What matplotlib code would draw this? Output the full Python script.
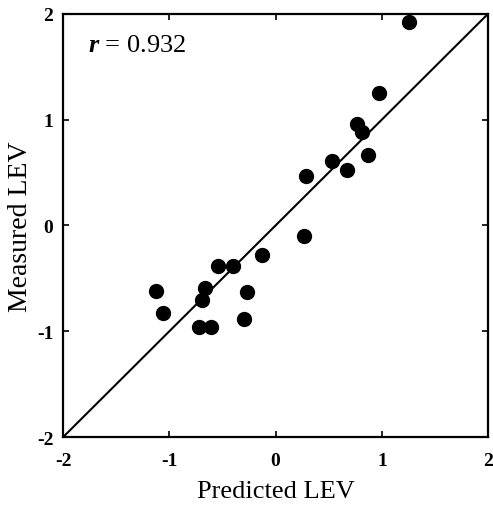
import matplotlib.pyplot as plt

# predicted vs measured LEV
predicted = [1.26, 0.97, 0.77, 0.81, 0.87, 0.53, 0.67, 0.29,
             0.27, -0.13, -0.54, -0.40, -1.13, -0.66, -0.69, -0.27,
             -1.06, -0.30, -0.72, -0.61]
measured = [1.92, 1.25, 0.96, 0.88, 0.67, 0.61, 0.52, 0.47,
            -0.10, -0.28, -0.38, -0.38, -0.62, -0.59, -0.70, -0.63,
            -0.83, -0.88, -0.96, -0.96]
ticks = [-2, -1, 0, 1, 2]
r_text = '$r$ = 0.932'

plt.rcParams['font.family'] = ['Liberation Serif', 'DejaVu Serif']
plt.rcParams['mathtext.fontset'] = 'custom'
plt.rcParams['mathtext.it'] = 'Liberation Serif:italic:bold'

fig = plt.figure(figsize=(4.93, 5.10), dpi=100)
ax = fig.add_axes([0.128, 0.141, 0.862, 0.830])

ax.plot([-2, 2], [-2, 2], color='black', lw=1.5, zorder=1)
ax.plot(predicted, measured, 'o', color='black', markersize=10, zorder=2)

ax.set_xlim(-2, 2)
ax.set_ylim(-2, 2)
ax.set_xticks(ticks)
ax.set_yticks(ticks)
ax.set_xticklabels([str(t) for t in ticks], fontweight='bold', fontsize=14)
ax.set_yticklabels([str(t) for t in ticks], fontweight='bold', fontsize=14)
ax.tick_params(direction='in', length=4, width=1.2, top=True, right=True)
ax.tick_params(axis='x', pad=11)
ax.tick_params(axis='y', pad=7)
for s in ax.spines.values():
    s.set_linewidth(1.6)

ax.set_xlabel('Predicted LEV', fontsize=19, labelpad=8)
ax.set_ylabel('Measured LEV', fontsize=20, labelpad=3)
ax.text(-1.765, 1.65, r_text, fontsize=19)

fig.savefig('out.png', dpi=100)
